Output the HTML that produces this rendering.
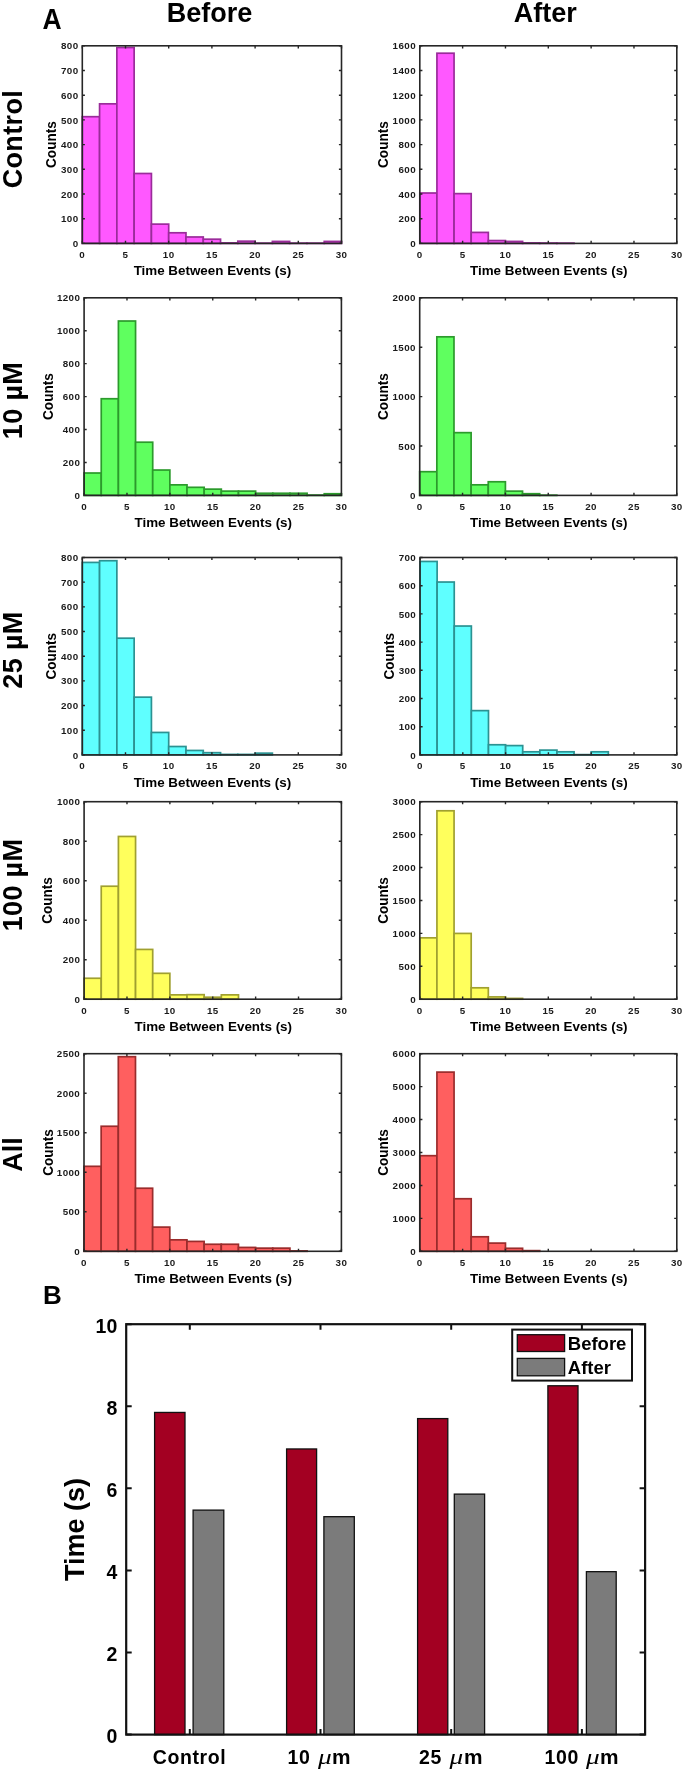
<!DOCTYPE html>
<html><head><meta charset="utf-8"><title>Figure</title>
<style>
html,body{margin:0;padding:0;background:#fff;}
body{width:685px;height:1770px;overflow:hidden;}
svg{display:block;font-family:"Liberation Sans", sans-serif;filter:blur(0.5px);}
.tl{font-weight:bold;fill:#1a1a1a;}
</style></head>
<body>
<svg width="685" height="1770" viewBox="0 0 685 1770">
<g fill="#ff58ff" stroke="#9a2c9a" stroke-width="1.7"><rect x="82.3" y="116.69" width="17.28" height="126.71"/><rect x="99.58" y="103.84" width="17.28" height="139.56"/><rect x="116.86" y="47.53" width="17.28" height="195.87"/><rect x="134.14" y="173.5" width="17.28" height="69.9"/><rect x="151.42" y="224.13" width="17.28" height="19.27"/><rect x="168.7" y="232.78" width="17.28" height="10.62"/><rect x="185.98" y="236.98" width="17.28" height="6.42"/><rect x="203.26" y="239.2" width="17.28" height="4.2"/><rect x="220.54" y="242.91" width="17.28" height="0.49"/><rect x="237.82" y="241.18" width="17.28" height="2.22"/><rect x="255.1" y="243.15" width="17.28" height="0.25"/><rect x="272.38" y="241.42" width="17.28" height="1.98"/><rect x="289.66" y="243.15" width="17.28" height="0.25"/><rect x="306.94" y="243.15" width="17.28" height="0.25"/><rect x="324.22" y="241.42" width="17.28" height="1.98"/></g>
<path d="M82.3 243.4h2.6M341.5 243.4h-2.6M82.3 218.7h2.6M341.5 218.7h-2.6M82.3 194h2.6M341.5 194h-2.6M82.3 169.3h2.6M341.5 169.3h-2.6M82.3 144.6h2.6M341.5 144.6h-2.6M82.3 119.9h2.6M341.5 119.9h-2.6M82.3 95.2h2.6M341.5 95.2h-2.6M82.3 70.5h2.6M341.5 70.5h-2.6M82.3 45.8h2.6M341.5 45.8h-2.6M82.3 243.4v-2.6M82.3 45.8v2.6M125.5 243.4v-2.6M125.5 45.8v2.6M168.7 243.4v-2.6M168.7 45.8v2.6M211.9 243.4v-2.6M211.9 45.8v2.6M255.1 243.4v-2.6M255.1 45.8v2.6M298.3 243.4v-2.6M298.3 45.8v2.6M341.5 243.4v-2.6M341.5 45.8v2.6" stroke="#262626" stroke-width="1.4" fill="none"/>
<rect x="82.3" y="45.8" width="259.2" height="197.6" fill="none" stroke="#262626" stroke-width="1.6"/>
<g font-size="9.8" text-anchor="end" class="tl" letter-spacing="0.4"><text x="78.5" y="247">0</text><text x="78.5" y="222.3">100</text><text x="78.5" y="197.6">200</text><text x="78.5" y="172.9">300</text><text x="78.5" y="148.2">400</text><text x="78.5" y="123.5">500</text><text x="78.5" y="98.8">600</text><text x="78.5" y="74.1">700</text><text x="78.5" y="49.4">800</text></g>
<g font-size="9.8" text-anchor="middle" class="tl" letter-spacing="0.4"><text x="82.3" y="257.8">0</text><text x="125.5" y="257.8">5</text><text x="168.7" y="257.8">10</text><text x="211.9" y="257.8">15</text><text x="255.1" y="257.8">20</text><text x="298.3" y="257.8">25</text><text x="341.5" y="257.8">30</text></g>
<text x="212.4" y="275.4" font-size="13.4" font-weight="bold" text-anchor="middle">Time Between Events (s)</text>
<text transform="translate(56 144.6) rotate(-90) scale(0.93 1)" font-size="14.6" font-weight="bold" text-anchor="middle">Counts</text>
<g fill="#ff58ff" stroke="#9a2c9a" stroke-width="1.7"><rect x="419.8" y="193.01" width="17.13" height="50.39"/><rect x="436.93" y="53.21" width="17.13" height="190.19"/><rect x="454.07" y="193.63" width="17.13" height="49.77"/><rect x="471.2" y="232.41" width="17.13" height="10.99"/><rect x="488.33" y="240.56" width="17.13" height="2.84"/><rect x="505.47" y="241.42" width="17.13" height="1.98"/><rect x="522.6" y="242.91" width="17.13" height="0.49"/><rect x="539.73" y="243.03" width="17.13" height="0.37"/><rect x="556.87" y="243.15" width="17.13" height="0.25"/></g>
<path d="M419.8 243.4h2.6M676.8 243.4h-2.6M419.8 218.7h2.6M676.8 218.7h-2.6M419.8 194h2.6M676.8 194h-2.6M419.8 169.3h2.6M676.8 169.3h-2.6M419.8 144.6h2.6M676.8 144.6h-2.6M419.8 119.9h2.6M676.8 119.9h-2.6M419.8 95.2h2.6M676.8 95.2h-2.6M419.8 70.5h2.6M676.8 70.5h-2.6M419.8 45.8h2.6M676.8 45.8h-2.6M419.8 243.4v-2.6M419.8 45.8v2.6M462.63 243.4v-2.6M462.63 45.8v2.6M505.47 243.4v-2.6M505.47 45.8v2.6M548.3 243.4v-2.6M548.3 45.8v2.6M591.13 243.4v-2.6M591.13 45.8v2.6M633.97 243.4v-2.6M633.97 45.8v2.6M676.8 243.4v-2.6M676.8 45.8v2.6" stroke="#262626" stroke-width="1.4" fill="none"/>
<rect x="419.8" y="45.8" width="257" height="197.6" fill="none" stroke="#262626" stroke-width="1.6"/>
<g font-size="9.8" text-anchor="end" class="tl" letter-spacing="0.4"><text x="416" y="247">0</text><text x="416" y="222.3">200</text><text x="416" y="197.6">400</text><text x="416" y="172.9">600</text><text x="416" y="148.2">800</text><text x="416" y="123.5">1000</text><text x="416" y="98.8">1200</text><text x="416" y="74.1">1400</text><text x="416" y="49.4">1600</text></g>
<g font-size="9.8" text-anchor="middle" class="tl" letter-spacing="0.4"><text x="419.8" y="257.8">0</text><text x="462.63" y="257.8">5</text><text x="505.47" y="257.8">10</text><text x="548.3" y="257.8">15</text><text x="591.13" y="257.8">20</text><text x="633.97" y="257.8">25</text><text x="676.8" y="257.8">30</text></g>
<text x="548.8" y="275.4" font-size="13.4" font-weight="bold" text-anchor="middle">Time Between Events (s)</text>
<text transform="translate(387.7 144.6) rotate(-90) scale(0.93 1)" font-size="14.6" font-weight="bold" text-anchor="middle">Counts</text>
<g fill="#5fff5f" stroke="#2c9a2c" stroke-width="1.7"><rect x="84.1" y="473.01" width="17.15" height="22.39"/><rect x="101.25" y="398.74" width="17.15" height="96.66"/><rect x="118.41" y="321.02" width="17.15" height="174.38"/><rect x="135.56" y="442.21" width="17.15" height="53.19"/><rect x="152.71" y="470.04" width="17.15" height="25.36"/><rect x="169.87" y="484.86" width="17.15" height="10.54"/><rect x="187.02" y="487.33" width="17.15" height="8.07"/><rect x="204.17" y="489.14" width="17.15" height="6.26"/><rect x="221.33" y="491.12" width="17.15" height="4.28"/><rect x="238.48" y="491.12" width="17.15" height="4.28"/><rect x="255.63" y="493.26" width="17.15" height="2.14"/><rect x="272.79" y="493.26" width="17.15" height="2.14"/><rect x="289.94" y="493.26" width="17.15" height="2.14"/><rect x="307.09" y="495.07" width="17.15" height="0.33"/><rect x="324.25" y="493.75" width="17.15" height="1.65"/></g>
<path d="M84.1 495.4h2.6M341.4 495.4h-2.6M84.1 462.47h2.6M341.4 462.47h-2.6M84.1 429.53h2.6M341.4 429.53h-2.6M84.1 396.6h2.6M341.4 396.6h-2.6M84.1 363.67h2.6M341.4 363.67h-2.6M84.1 330.73h2.6M341.4 330.73h-2.6M84.1 297.8h2.6M341.4 297.8h-2.6M84.1 495.4v-2.6M84.1 297.8v2.6M126.98 495.4v-2.6M126.98 297.8v2.6M169.87 495.4v-2.6M169.87 297.8v2.6M212.75 495.4v-2.6M212.75 297.8v2.6M255.63 495.4v-2.6M255.63 297.8v2.6M298.52 495.4v-2.6M298.52 297.8v2.6M341.4 495.4v-2.6M341.4 297.8v2.6" stroke="#262626" stroke-width="1.4" fill="none"/>
<rect x="84.1" y="297.8" width="257.3" height="197.6" fill="none" stroke="#262626" stroke-width="1.6"/>
<g font-size="9.8" text-anchor="end" class="tl" letter-spacing="0.4"><text x="80.3" y="499">0</text><text x="80.3" y="466.07">200</text><text x="80.3" y="433.13">400</text><text x="80.3" y="400.2">600</text><text x="80.3" y="367.27">800</text><text x="80.3" y="334.33">1000</text><text x="80.3" y="301.4">1200</text></g>
<g font-size="9.8" text-anchor="middle" class="tl" letter-spacing="0.4"><text x="84.1" y="509.8">0</text><text x="126.98" y="509.8">5</text><text x="169.87" y="509.8">10</text><text x="212.75" y="509.8">15</text><text x="255.63" y="509.8">20</text><text x="298.52" y="509.8">25</text><text x="341.4" y="509.8">30</text></g>
<text x="213.25" y="527.4" font-size="13.4" font-weight="bold" text-anchor="middle">Time Between Events (s)</text>
<text transform="translate(52.5 396.6) rotate(-90) scale(0.93 1)" font-size="14.6" font-weight="bold" text-anchor="middle">Counts</text>
<g fill="#5fff5f" stroke="#2c9a2c" stroke-width="1.7"><rect x="419.7" y="471.69" width="17.14" height="23.71"/><rect x="436.84" y="336.83" width="17.14" height="158.57"/><rect x="453.98" y="432.66" width="17.14" height="62.74"/><rect x="471.12" y="484.83" width="17.14" height="10.57"/><rect x="488.26" y="481.77" width="17.14" height="13.63"/><rect x="505.4" y="491.15" width="17.14" height="4.25"/><rect x="522.54" y="493.72" width="17.14" height="1.68"/><rect x="539.68" y="495.2" width="17.14" height="0.2"/></g>
<path d="M419.7 495.4h2.6M676.8 495.4h-2.6M419.7 446h2.6M676.8 446h-2.6M419.7 396.6h2.6M676.8 396.6h-2.6M419.7 347.2h2.6M676.8 347.2h-2.6M419.7 297.8h2.6M676.8 297.8h-2.6M419.7 495.4v-2.6M419.7 297.8v2.6M462.55 495.4v-2.6M462.55 297.8v2.6M505.4 495.4v-2.6M505.4 297.8v2.6M548.25 495.4v-2.6M548.25 297.8v2.6M591.1 495.4v-2.6M591.1 297.8v2.6M633.95 495.4v-2.6M633.95 297.8v2.6M676.8 495.4v-2.6M676.8 297.8v2.6" stroke="#262626" stroke-width="1.4" fill="none"/>
<rect x="419.7" y="297.8" width="257.1" height="197.6" fill="none" stroke="#262626" stroke-width="1.6"/>
<g font-size="9.8" text-anchor="end" class="tl" letter-spacing="0.4"><text x="415.9" y="499">0</text><text x="415.9" y="449.6">500</text><text x="415.9" y="400.2">1000</text><text x="415.9" y="350.8">1500</text><text x="415.9" y="301.4">2000</text></g>
<g font-size="9.8" text-anchor="middle" class="tl" letter-spacing="0.4"><text x="419.7" y="509.8">0</text><text x="462.55" y="509.8">5</text><text x="505.4" y="509.8">10</text><text x="548.25" y="509.8">15</text><text x="591.1" y="509.8">20</text><text x="633.95" y="509.8">25</text><text x="676.8" y="509.8">30</text></g>
<text x="548.75" y="527.4" font-size="13.4" font-weight="bold" text-anchor="middle">Time Between Events (s)</text>
<text transform="translate(387.7 396.6) rotate(-90) scale(0.93 1)" font-size="14.6" font-weight="bold" text-anchor="middle">Counts</text>
<g fill="#5fffff" stroke="#2c9292" stroke-width="1.7"><rect x="82.3" y="562.43" width="17.28" height="192.46"/><rect x="99.58" y="560.71" width="17.28" height="194.19"/><rect x="116.86" y="638.19" width="17.28" height="116.71"/><rect x="134.14" y="697.16" width="17.28" height="57.74"/><rect x="151.42" y="732.45" width="17.28" height="22.45"/><rect x="168.7" y="746.51" width="17.28" height="8.39"/><rect x="185.98" y="750.46" width="17.28" height="4.44"/><rect x="203.26" y="752.68" width="17.28" height="2.22"/><rect x="220.54" y="754.41" width="17.28" height="0.49"/><rect x="237.82" y="754.41" width="17.28" height="0.49"/><rect x="255.1" y="753.17" width="17.28" height="1.73"/></g>
<path d="M82.3 754.9h2.6M341.5 754.9h-2.6M82.3 730.23h2.6M341.5 730.23h-2.6M82.3 705.55h2.6M341.5 705.55h-2.6M82.3 680.88h2.6M341.5 680.88h-2.6M82.3 656.2h2.6M341.5 656.2h-2.6M82.3 631.52h2.6M341.5 631.52h-2.6M82.3 606.85h2.6M341.5 606.85h-2.6M82.3 582.17h2.6M341.5 582.17h-2.6M82.3 557.5h2.6M341.5 557.5h-2.6M82.3 754.9v-2.6M82.3 557.5v2.6M125.5 754.9v-2.6M125.5 557.5v2.6M168.7 754.9v-2.6M168.7 557.5v2.6M211.9 754.9v-2.6M211.9 557.5v2.6M255.1 754.9v-2.6M255.1 557.5v2.6M298.3 754.9v-2.6M298.3 557.5v2.6M341.5 754.9v-2.6M341.5 557.5v2.6" stroke="#262626" stroke-width="1.4" fill="none"/>
<rect x="82.3" y="557.5" width="259.2" height="197.4" fill="none" stroke="#262626" stroke-width="1.6"/>
<g font-size="9.8" text-anchor="end" class="tl" letter-spacing="0.4"><text x="78.5" y="758.5">0</text><text x="78.5" y="733.83">100</text><text x="78.5" y="709.15">200</text><text x="78.5" y="684.48">300</text><text x="78.5" y="659.8">400</text><text x="78.5" y="635.12">500</text><text x="78.5" y="610.45">600</text><text x="78.5" y="585.77">700</text><text x="78.5" y="561.1">800</text></g>
<g font-size="9.8" text-anchor="middle" class="tl" letter-spacing="0.4"><text x="82.3" y="769.3">0</text><text x="125.5" y="769.3">5</text><text x="168.7" y="769.3">10</text><text x="211.9" y="769.3">15</text><text x="255.1" y="769.3">20</text><text x="298.3" y="769.3">25</text><text x="341.5" y="769.3">30</text></g>
<text x="212.4" y="786.9" font-size="13.4" font-weight="bold" text-anchor="middle">Time Between Events (s)</text>
<text transform="translate(56 656.2) rotate(-90) scale(0.93 1)" font-size="14.6" font-weight="bold" text-anchor="middle">Counts</text>
<g fill="#5fffff" stroke="#2c9292" stroke-width="1.7"><rect x="420" y="561.45" width="17.12" height="193.45"/><rect x="437.12" y="582.03" width="17.12" height="172.87"/><rect x="454.24" y="626.03" width="17.12" height="128.87"/><rect x="471.36" y="710.63" width="17.12" height="44.27"/><rect x="488.48" y="744.75" width="17.12" height="10.15"/><rect x="505.6" y="745.59" width="17.12" height="9.31"/><rect x="522.72" y="751.8" width="17.12" height="3.1"/><rect x="539.84" y="750.11" width="17.12" height="4.79"/><rect x="556.96" y="751.8" width="17.12" height="3.1"/><rect x="574.08" y="754.62" width="17.12" height="0.28"/><rect x="591.2" y="751.8" width="17.12" height="3.1"/></g>
<path d="M420 754.9h2.6M676.8 754.9h-2.6M420 726.7h2.6M676.8 726.7h-2.6M420 698.5h2.6M676.8 698.5h-2.6M420 670.3h2.6M676.8 670.3h-2.6M420 642.1h2.6M676.8 642.1h-2.6M420 613.9h2.6M676.8 613.9h-2.6M420 585.7h2.6M676.8 585.7h-2.6M420 557.5h2.6M676.8 557.5h-2.6M420 754.9v-2.6M420 557.5v2.6M462.8 754.9v-2.6M462.8 557.5v2.6M505.6 754.9v-2.6M505.6 557.5v2.6M548.4 754.9v-2.6M548.4 557.5v2.6M591.2 754.9v-2.6M591.2 557.5v2.6M634 754.9v-2.6M634 557.5v2.6M676.8 754.9v-2.6M676.8 557.5v2.6" stroke="#262626" stroke-width="1.4" fill="none"/>
<rect x="420" y="557.5" width="256.8" height="197.4" fill="none" stroke="#262626" stroke-width="1.6"/>
<g font-size="9.8" text-anchor="end" class="tl" letter-spacing="0.4"><text x="416.2" y="758.5">0</text><text x="416.2" y="730.3">100</text><text x="416.2" y="702.1">200</text><text x="416.2" y="673.9">300</text><text x="416.2" y="645.7">400</text><text x="416.2" y="617.5">500</text><text x="416.2" y="589.3">600</text><text x="416.2" y="561.1">700</text></g>
<g font-size="9.8" text-anchor="middle" class="tl" letter-spacing="0.4"><text x="420" y="769.3">0</text><text x="462.8" y="769.3">5</text><text x="505.6" y="769.3">10</text><text x="548.4" y="769.3">15</text><text x="591.2" y="769.3">20</text><text x="634" y="769.3">25</text><text x="676.8" y="769.3">30</text></g>
<text x="548.9" y="786.9" font-size="13.4" font-weight="bold" text-anchor="middle">Time Between Events (s)</text>
<text transform="translate(393.5 656.2) rotate(-90) scale(0.93 1)" font-size="14.6" font-weight="bold" text-anchor="middle">Counts</text>
<g fill="#ffff5c" stroke="#a0a030" stroke-width="1.7"><rect x="84.1" y="978.27" width="17.15" height="20.93"/><rect x="101.25" y="886.23" width="17.15" height="112.97"/><rect x="118.41" y="836.46" width="17.15" height="162.74"/><rect x="135.56" y="949.43" width="17.15" height="49.77"/><rect x="152.71" y="973.33" width="17.15" height="25.87"/><rect x="169.87" y="994.86" width="17.15" height="4.34"/><rect x="187.02" y="994.66" width="17.15" height="4.54"/><rect x="204.17" y="997.23" width="17.15" height="1.98"/><rect x="221.33" y="994.86" width="17.15" height="4.34"/></g>
<path d="M84.1 999.2h2.6M341.4 999.2h-2.6M84.1 959.7h2.6M341.4 959.7h-2.6M84.1 920.2h2.6M341.4 920.2h-2.6M84.1 880.7h2.6M341.4 880.7h-2.6M84.1 841.2h2.6M341.4 841.2h-2.6M84.1 801.7h2.6M341.4 801.7h-2.6M84.1 999.2v-2.6M84.1 801.7v2.6M126.98 999.2v-2.6M126.98 801.7v2.6M169.87 999.2v-2.6M169.87 801.7v2.6M212.75 999.2v-2.6M212.75 801.7v2.6M255.63 999.2v-2.6M255.63 801.7v2.6M298.52 999.2v-2.6M298.52 801.7v2.6M341.4 999.2v-2.6M341.4 801.7v2.6" stroke="#262626" stroke-width="1.4" fill="none"/>
<rect x="84.1" y="801.7" width="257.3" height="197.5" fill="none" stroke="#262626" stroke-width="1.6"/>
<g font-size="9.8" text-anchor="end" class="tl" letter-spacing="0.4"><text x="80.3" y="1002.8">0</text><text x="80.3" y="963.3">200</text><text x="80.3" y="923.8">400</text><text x="80.3" y="884.3">600</text><text x="80.3" y="844.8">800</text><text x="80.3" y="805.3">1000</text></g>
<g font-size="9.8" text-anchor="middle" class="tl" letter-spacing="0.4"><text x="84.1" y="1013.6">0</text><text x="126.98" y="1013.6">5</text><text x="169.87" y="1013.6">10</text><text x="212.75" y="1013.6">15</text><text x="255.63" y="1013.6">20</text><text x="298.52" y="1013.6">25</text><text x="341.4" y="1013.6">30</text></g>
<text x="213.25" y="1031.2" font-size="13.4" font-weight="bold" text-anchor="middle">Time Between Events (s)</text>
<text transform="translate(52.4 900.45) rotate(-90) scale(0.93 1)" font-size="14.6" font-weight="bold" text-anchor="middle">Counts</text>
<g fill="#ffff5c" stroke="#a0a030" stroke-width="1.7"><rect x="419.8" y="937.84" width="17.13" height="61.36"/><rect x="436.93" y="810.79" width="17.13" height="188.41"/><rect x="454.07" y="933.43" width="17.13" height="65.77"/><rect x="471.2" y="987.81" width="17.13" height="11.39"/><rect x="488.33" y="996.9" width="17.13" height="2.3"/><rect x="505.47" y="998.41" width="17.13" height="0.79"/></g>
<path d="M419.8 999.2h2.6M676.8 999.2h-2.6M419.8 966.28h2.6M676.8 966.28h-2.6M419.8 933.37h2.6M676.8 933.37h-2.6M419.8 900.45h2.6M676.8 900.45h-2.6M419.8 867.53h2.6M676.8 867.53h-2.6M419.8 834.62h2.6M676.8 834.62h-2.6M419.8 801.7h2.6M676.8 801.7h-2.6M419.8 999.2v-2.6M419.8 801.7v2.6M462.63 999.2v-2.6M462.63 801.7v2.6M505.47 999.2v-2.6M505.47 801.7v2.6M548.3 999.2v-2.6M548.3 801.7v2.6M591.13 999.2v-2.6M591.13 801.7v2.6M633.97 999.2v-2.6M633.97 801.7v2.6M676.8 999.2v-2.6M676.8 801.7v2.6" stroke="#262626" stroke-width="1.4" fill="none"/>
<rect x="419.8" y="801.7" width="257" height="197.5" fill="none" stroke="#262626" stroke-width="1.6"/>
<g font-size="9.8" text-anchor="end" class="tl" letter-spacing="0.4"><text x="416" y="1002.8">0</text><text x="416" y="969.88">500</text><text x="416" y="936.97">1000</text><text x="416" y="904.05">1500</text><text x="416" y="871.13">2000</text><text x="416" y="838.22">2500</text><text x="416" y="805.3">3000</text></g>
<g font-size="9.8" text-anchor="middle" class="tl" letter-spacing="0.4"><text x="419.8" y="1013.6">0</text><text x="462.63" y="1013.6">5</text><text x="505.47" y="1013.6">10</text><text x="548.3" y="1013.6">15</text><text x="591.13" y="1013.6">20</text><text x="633.97" y="1013.6">25</text><text x="676.8" y="1013.6">30</text></g>
<text x="548.8" y="1031.2" font-size="13.4" font-weight="bold" text-anchor="middle">Time Between Events (s)</text>
<text transform="translate(387.7 900.45) rotate(-90) scale(0.93 1)" font-size="14.6" font-weight="bold" text-anchor="middle">Counts</text>
<g fill="#ff5f5f" stroke="#9a2c2c" stroke-width="1.7"><rect x="84" y="1166.33" width="17.16" height="84.97"/><rect x="101.16" y="1126.26" width="17.16" height="125.04"/><rect x="118.32" y="1056.7" width="17.16" height="194.6"/><rect x="135.48" y="1188.23" width="17.16" height="63.07"/><rect x="152.64" y="1227.11" width="17.16" height="24.19"/><rect x="169.8" y="1239.84" width="17.16" height="11.46"/><rect x="186.96" y="1241.42" width="17.16" height="9.88"/><rect x="204.12" y="1244.27" width="17.16" height="7.03"/><rect x="221.28" y="1244.27" width="17.16" height="7.03"/><rect x="238.44" y="1247.43" width="17.16" height="3.87"/><rect x="255.6" y="1248.14" width="17.16" height="3.16"/><rect x="272.76" y="1248.14" width="17.16" height="3.16"/><rect x="289.92" y="1250.9" width="17.16" height="0.4"/></g>
<path d="M84 1251.3h2.6M341.4 1251.3h-2.6M84 1211.78h2.6M341.4 1211.78h-2.6M84 1172.26h2.6M341.4 1172.26h-2.6M84 1132.74h2.6M341.4 1132.74h-2.6M84 1093.22h2.6M341.4 1093.22h-2.6M84 1053.7h2.6M341.4 1053.7h-2.6M84 1251.3v-2.6M84 1053.7v2.6M126.9 1251.3v-2.6M126.9 1053.7v2.6M169.8 1251.3v-2.6M169.8 1053.7v2.6M212.7 1251.3v-2.6M212.7 1053.7v2.6M255.6 1251.3v-2.6M255.6 1053.7v2.6M298.5 1251.3v-2.6M298.5 1053.7v2.6M341.4 1251.3v-2.6M341.4 1053.7v2.6" stroke="#262626" stroke-width="1.4" fill="none"/>
<rect x="84" y="1053.7" width="257.4" height="197.6" fill="none" stroke="#262626" stroke-width="1.6"/>
<g font-size="9.8" text-anchor="end" class="tl" letter-spacing="0.4"><text x="80.2" y="1254.9">0</text><text x="80.2" y="1215.38">500</text><text x="80.2" y="1175.86">1000</text><text x="80.2" y="1136.34">1500</text><text x="80.2" y="1096.82">2000</text><text x="80.2" y="1057.3">2500</text></g>
<g font-size="9.8" text-anchor="middle" class="tl" letter-spacing="0.4"><text x="84" y="1265.7">0</text><text x="126.9" y="1265.7">5</text><text x="169.8" y="1265.7">10</text><text x="212.7" y="1265.7">15</text><text x="255.6" y="1265.7">20</text><text x="298.5" y="1265.7">25</text><text x="341.4" y="1265.7">30</text></g>
<text x="213.2" y="1283.3" font-size="13.4" font-weight="bold" text-anchor="middle">Time Between Events (s)</text>
<text transform="translate(52.5 1152.5) rotate(-90) scale(0.93 1)" font-size="14.6" font-weight="bold" text-anchor="middle">Counts</text>
<g fill="#ff5f5f" stroke="#9a2c2c" stroke-width="1.7"><rect x="419.8" y="1155.69" width="17.13" height="95.61"/><rect x="436.93" y="1072.11" width="17.13" height="179.19"/><rect x="454.07" y="1198.74" width="17.13" height="52.56"/><rect x="471.2" y="1236.78" width="17.13" height="14.52"/><rect x="488.33" y="1243.1" width="17.13" height="8.2"/><rect x="505.47" y="1248.3" width="17.13" height="3"/><rect x="522.6" y="1250.64" width="17.13" height="0.66"/></g>
<path d="M419.8 1251.3h2.6M676.8 1251.3h-2.6M419.8 1218.37h2.6M676.8 1218.37h-2.6M419.8 1185.43h2.6M676.8 1185.43h-2.6M419.8 1152.5h2.6M676.8 1152.5h-2.6M419.8 1119.57h2.6M676.8 1119.57h-2.6M419.8 1086.63h2.6M676.8 1086.63h-2.6M419.8 1053.7h2.6M676.8 1053.7h-2.6M419.8 1251.3v-2.6M419.8 1053.7v2.6M462.63 1251.3v-2.6M462.63 1053.7v2.6M505.47 1251.3v-2.6M505.47 1053.7v2.6M548.3 1251.3v-2.6M548.3 1053.7v2.6M591.13 1251.3v-2.6M591.13 1053.7v2.6M633.97 1251.3v-2.6M633.97 1053.7v2.6M676.8 1251.3v-2.6M676.8 1053.7v2.6" stroke="#262626" stroke-width="1.4" fill="none"/>
<rect x="419.8" y="1053.7" width="257" height="197.6" fill="none" stroke="#262626" stroke-width="1.6"/>
<g font-size="9.8" text-anchor="end" class="tl" letter-spacing="0.4"><text x="416" y="1254.9">0</text><text x="416" y="1221.97">1000</text><text x="416" y="1189.03">2000</text><text x="416" y="1156.1">3000</text><text x="416" y="1123.17">4000</text><text x="416" y="1090.23">5000</text><text x="416" y="1057.3">6000</text></g>
<g font-size="9.8" text-anchor="middle" class="tl" letter-spacing="0.4"><text x="419.8" y="1265.7">0</text><text x="462.63" y="1265.7">5</text><text x="505.47" y="1265.7">10</text><text x="548.3" y="1265.7">15</text><text x="591.13" y="1265.7">20</text><text x="633.97" y="1265.7">25</text><text x="676.8" y="1265.7">30</text></g>
<text x="548.8" y="1283.3" font-size="13.4" font-weight="bold" text-anchor="middle">Time Between Events (s)</text>
<text transform="translate(387.7 1152.5) rotate(-90) scale(0.93 1)" font-size="14.6" font-weight="bold" text-anchor="middle">Counts</text>
<text transform="translate(22.3 139.1) rotate(-90)" font-size="27" font-weight="bold" text-anchor="middle" letter-spacing="0.35">Control</text>
<text transform="translate(22.3 400.5) rotate(-90)" font-size="27" font-weight="bold" text-anchor="middle" letter-spacing="0.35">10 µM</text>
<text transform="translate(22.3 650) rotate(-90)" font-size="27" font-weight="bold" text-anchor="middle" letter-spacing="0.35">25 µM</text>
<text transform="translate(22.3 885) rotate(-90)" font-size="27" font-weight="bold" text-anchor="middle" letter-spacing="0.35">100 µM</text>
<text transform="translate(22.3 1154.6) rotate(-90)" font-size="27" font-weight="bold" text-anchor="middle" letter-spacing="0">All</text>
<text transform="translate(42.6 28.5) scale(0.92 1)" font-size="28.8" font-weight="bold">A</text>
<text x="209.5" y="21.7" font-size="27" font-weight="bold" text-anchor="middle">Before</text>
<text x="545.3" y="21.7" font-size="27" font-weight="bold" text-anchor="middle">After</text>
<g stroke="#111" stroke-width="1.3"><rect x="154.6" y="1412.44" width="30.4" height="322.16" fill="#a30022"/><rect x="193.1" y="1510.11" width="30.7" height="224.49" fill="#7b7b7b"/><rect x="286.6" y="1448.96" width="30" height="285.64" fill="#a30022"/><rect x="323.9" y="1516.68" width="30.4" height="217.92" fill="#7b7b7b"/><rect x="417.6" y="1418.59" width="30.2" height="316.01" fill="#a30022"/><rect x="454.3" y="1494.11" width="30.3" height="240.49" fill="#7b7b7b"/><rect x="547.9" y="1385.76" width="30.1" height="348.84" fill="#a30022"/><rect x="586.4" y="1571.67" width="29.8" height="162.93" fill="#7b7b7b"/></g>
<path d="M126.2 1734.6h5.5M645.1 1734.6h-5.5M126.2 1652.52h5.5M645.1 1652.52h-5.5M126.2 1570.44h5.5M645.1 1570.44h-5.5M126.2 1488.36h5.5M645.1 1488.36h-5.5M126.2 1406.28h5.5M645.1 1406.28h-5.5M126.2 1324.2h5.5M645.1 1324.2h-5.5M189.8 1734.6v-5.5M189.8 1324.2v5.5M320.5 1734.6v-5.5M320.5 1324.2v5.5M451.2 1734.6v-5.5M451.2 1324.2v5.5M581.9 1734.6v-5.5M581.9 1324.2v5.5" stroke="#111" stroke-width="2" fill="none"/>
<rect x="126.2" y="1324.2" width="518.9" height="410.4" fill="none" stroke="#111" stroke-width="2.2"/>
<rect x="512.2" y="1329.6" width="119.8" height="51" fill="#fff" stroke="#111" stroke-width="2"/>
<rect x="517.3" y="1334.7" width="47.3" height="16.8" fill="#a30022" stroke="#111" stroke-width="1.3"/>
<rect x="517.3" y="1358.4" width="47.3" height="17.4" fill="#7b7b7b" stroke="#111" stroke-width="1.3"/>
<text x="567.8" y="1349.9" font-size="18.5" font-weight="bold">Before</text>
<text x="567.8" y="1373.6" font-size="18.5" font-weight="bold">After</text>
<g font-size="19.5" font-weight="bold" text-anchor="end"><text x="117.3" y="1743">0</text><text x="117.3" y="1660.92">2</text><text x="117.3" y="1578.84">4</text><text x="117.3" y="1496.76">6</text><text x="117.3" y="1414.68">8</text><text x="117.3" y="1332.6">10</text></g>
<g font-size="19.5" font-weight="bold"><text x="189.5" y="1763.6" text-anchor="middle" letter-spacing="0.6">Control</text><text x="287.6" y="1763.6" letter-spacing="0.6">10</text><text transform="translate(318 1763.6) scale(1.3 1)" font-family="'Liberation Serif', serif" font-style="italic" font-weight="normal" font-size="21">μ</text><text transform="translate(332 1763.6) scale(1.07 1)">m</text><text x="419" y="1763.6" letter-spacing="0.6">25</text><text transform="translate(449.4 1763.6) scale(1.3 1)" font-family="'Liberation Serif', serif" font-style="italic" font-weight="normal" font-size="21">μ</text><text transform="translate(464 1763.6) scale(1.07 1)">m</text><text x="544.6" y="1763.6" letter-spacing="0.6">100</text><text transform="translate(586 1763.6) scale(1.3 1)" font-family="'Liberation Serif', serif" font-style="italic" font-weight="normal" font-size="21">μ</text><text transform="translate(599.9 1763.6) scale(1.07 1)">m</text></g>
<text transform="translate(83.6 1529.5) rotate(-90)" font-size="27" font-weight="bold" text-anchor="middle">Time (s)</text>
<text x="43.0" y="1304.2" font-size="26" font-weight="bold">B</text>
</svg>
</body></html>
